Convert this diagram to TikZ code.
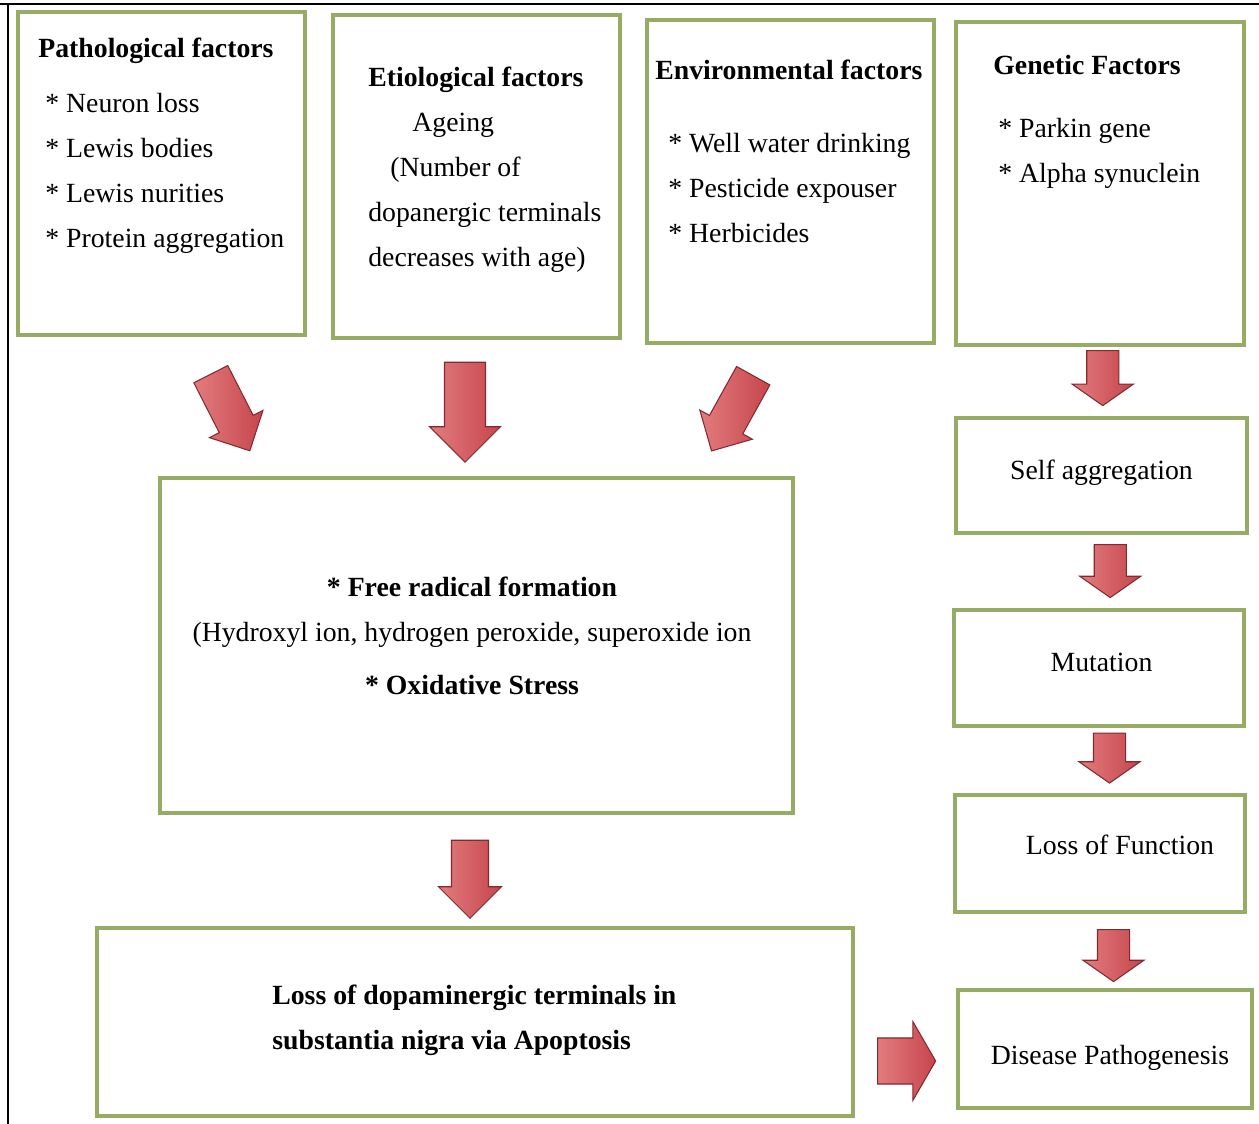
\documentclass[tikz,border=0pt]{standalone}
\usepackage{fontspec}
\setmainfont{Liberation Serif}
\usepackage{xcolor}
\usepackage{tikz}
\usetikzlibrary{shapes.arrows,calc}
\definecolor{boxgreen}{RGB}{150,172,100}
\definecolor{arrowred}{RGB}{198,70,76}
\definecolor{arrowlight}{RGB}{226,124,126}
\definecolor{arrowedge}{RGB}{130,42,48}

\begin{document}
\begin{tikzpicture}[x=0.02cm, y=0.02cm, font=\fontsize{15.8}{25.6}\selectfont,
    box/.style = {draw=boxgreen, line width=0.08cm, fill=white},
    txt/.style = {align=left, inner sep=0pt, anchor=north west},
    fat/.style = {single arrow, draw=arrowedge, line width=0.6pt, left color=arrowlight, right color=arrowred,
                  inner xsep=0pt, minimum width=0pt, minimum height=#1}]
    \useasboundingbox (0,0) rectangle (1259,-1124);
    \draw[line width=0.04cm] (0,-4) -- (1259,-4);
    \draw[line width=0.04cm] (8,-4) -- (8,-1124);

    \node[box, minimum width=5.74cm, minimum height=6.46cm] (path) at (161.5,-173.5) {};
    \node[box, minimum width=5.74cm, minimum height=6.46cm] (etio) at (476.5,-176.5) {};
    \node[box, minimum width=5.74cm, minimum height=6.46cm] (env)  at (790.5,-181.5) {};
    \node[box, minimum width=5.76cm, minimum height=6.46cm] (gene) at (1100,-183.5)  {};
    \node[box, minimum width=12.66cm, minimum height=6.7cm] (rad)  at (476.5,-645.5) {};
    \node[box, minimum width=15.12cm, minimum height=3.76cm] (loss) at (475,-1022)   {};
    \node[box, minimum width=5.82cm, minimum height=2.3cm]  (self) at (1101.5,-475.5)
        {\raisebox{0.06cm}[\height][\depth]{Self aggregation}};
    \node[box, minimum width=5.8cm,  minimum height=2.32cm] (mut)  at (1099,-668)
        {\raisebox{0.12cm}[\height][\depth]{\hspace*{0.1cm}Mutation}};
    \node[box, minimum width=5.8cm,  minimum height=2.34cm] (lof)  at (1100,-853.5)
        {\raisebox{0.18cm}[\height][\depth]{\hspace*{0.8cm}Loss of Function}};
    \node[box, minimum width=5.88cm, minimum height=2.36cm] (dis)  at (1105,-1049)
        {\raisebox{-0.18cm}[\height][\depth]{\hspace*{0.2cm}Disease Pathogenesis}};

    \node[txt] (pathtxt) at (38,-38) {\textbf{Pathological factors}\\[5.7pt]
        \hspace*{0.14cm}* Neuron loss\\ \hspace*{0.14cm}* Lewis bodies\\
        \hspace*{0.14cm}* Lewis nurities\\ \hspace*{0.14cm}* Protein aggregation};
    \node[txt] (etiotxt) at (368,-67) {\textbf{Etiological factors}\\
        \hspace*{0.88cm}Ageing\\ \hspace*{0.44cm}(Number of\\
        dopanergic terminals\\ decreases with age)};
    \node[txt] (envtxt) at (655,-60) {\textbf{Environmental factors}\\[15.9pt]
        \hspace*{0.26cm}* Well water drinking\\ \hspace*{0.26cm}* Pesticide expouser\\
        \hspace*{0.26cm}* Herbicides};
    \node[txt] (genetxt) at (993,-55) {\textbf{Genetic Factors}\\[10.2pt]
        \hspace*{0.1cm}* Parkin gene\\ \hspace*{0.1cm}* Alpha synuclein};
    \node[align=center, inner sep=0pt] (radtxt) at (472,-636) {\textbf{* Free radical formation}\\
        (Hydroxyl ion, hydrogen peroxide, superoxide ion\\[4.5pt]
        \textbf{* Oxidative Stress}};
    \node[txt] (losstxt) at (272,-985) {\textbf{Loss of dopaminergic terminals in}\\
        \textbf{substantia nigra via Apoptosis}};

    \node[fat=1.72cm, rotate=-63,  inner ysep=0.37cm, single arrow head extend=0.22cm] (a1) at (226,-404) {};
    \node[fat=2cm,    rotate=-90,  inner ysep=0.4cm,  single arrow head extend=0.3cm]  (a2) at (465,-402) {};
    \node[fat=1.72cm, rotate=-119, inner ysep=0.37cm, single arrow head extend=0.22cm] (a3) at (737,-405) {};
    \node[fat=1.56cm, rotate=-90,  inner ysep=0.36cm, single arrow head extend=0.26cm] (a4) at (470,-870) {};
    \node[fat=1.16cm, single arrow tip angle=120, inner ysep=0.45cm, single arrow head extend=0.33cm] (a5) at (900,-1061) {};
    \node[fat=1.1cm, rotate=-90, single arrow tip angle=110, inner ysep=0.31cm, single arrow head extend=0.29cm]
        (g1) at ($(gene.south)!0.5!(self.north)+(2,9)$) {};
    \node[fat=1.06cm, rotate=-90, single arrow tip angle=110, inner ysep=0.31cm, single arrow head extend=0.29cm]
        (g2) at ($(self.south)!0.5!(mut.north)+(10,6)$) {};
    \node[fat=1cm, rotate=-90, single arrow tip angle=110, inner ysep=0.31cm, single arrow head extend=0.29cm]
        (g3) at ($(mut.south)!0.5!(lof.north)+(10,8)$) {};
    \node[fat=1.04cm, rotate=-90, single arrow tip angle=110, inner ysep=0.31cm, single arrow head extend=0.29cm]
        (g4) at ($(lof.south)!0.5!(dis.north)+(11,1)$) {};
\end{tikzpicture}
\end{document}
